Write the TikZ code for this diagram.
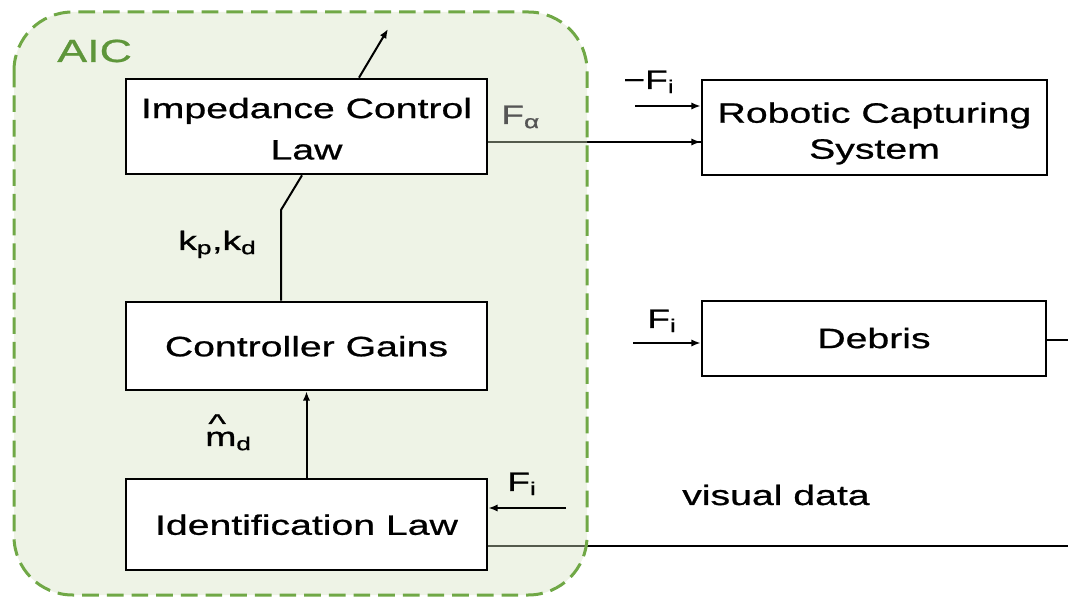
\documentclass[tikz,border=0pt]{standalone}
\usepackage{fontspec}
\setmainfont[FakeStretch=1.4,FakeBold=0.8]{Liberation Sans}
\usetikzlibrary{arrows.meta}
\definecolor{aicfill}{RGB}{212,225,192}
\definecolor{aicline}{RGB}{112,168,70}
\definecolor{aictext}{RGB}{94,150,58}
\definecolor{fagrey}{RGB}{85,85,85}
\newcommand{\mhatsym}{\rlap{\hspace{0.12em}\raisebox{0.5em}{\textasciicircum}}m}
\newcommand{\lowtext}[2]{\raisebox{-#1}[\height][\depth]{\begin{tabular}{@{}c@{}}#2\end{tabular}}}
\pgfdeclarelayer{under}
\pgfdeclarelayer{back}
\pgfsetlayers{under,back,main}
\begin{document}
\begin{tikzpicture}[x=0.75pt,y=-0.75pt,
  blk/.style={draw=black, line width=2pt, fill=white, minimum width=270.75pt,
    font=\fontsize{21}{31}\selectfont, align=center, inner sep=0pt},
  lbl/.style={font=\fontsize{20}{24}\selectfont, anchor=base west, inner sep=0pt},
  conn/.style={line width=1.5pt, draw=black},
  arr/.style={conn, -{Latex[length=7pt,width=5.5pt]}},
  aicbox/.style={draw=aicline, line width=2.25pt, dash pattern=on 12.5pt off 6pt,
    rounded corners=44pt},
]
\useasboundingbox (0,0) rectangle (1068,598);

% AIC container
\begin{pgfonlayer}{back}
  \fill[aicfill, fill opacity=0.4, rounded corners=44pt] (14,12) rectangle (587,595);
  \draw[aicbox] (14,12) rectangle (587,595);
\end{pgfonlayer}
\node[font=\fontsize{24}{28}\selectfont, text=aictext, anchor=base west, inner sep=0pt] (aic) at (57,62) {AIC};

% blocks
\node[blk, minimum height=71.25pt] (ICL) at (306.5,126.5) {\lowtext{3pt}{Impedance Control\\Law}};
\node[blk, minimum height=66pt] (CG) at (306.5,346) {\lowtext{1.5pt}{Controller Gains}};
\node[blk, minimum height=68.25pt] (IL) at (306.5,524.5) {\lowtext{1.5pt}{Identification Law}};
\node[blk, minimum height=71.25pt, minimum width=258.75pt, font=\fontsize{21}{27}\selectfont] (RCS) at (874.5,127.5) {\lowtext{4.5pt}{Robotic Capturing\\System}};
\node[blk, minimum height=56.25pt, minimum width=258pt] (DEB) at (874,338.5) {\lowtext{1pt}{Debris}};

% coordinates for free ends
\coordinate (upfoot) at (359,0);
\coordinate (upend) at (388,29);
\coordinate (kbend) at (281,210);
\coordinate (kfoot) at (302,0);
\coordinate (fa) at (0,142);
\coordinate (mfi) at (635,106);
\coordinate (fid) at (633,343);
\coordinate (dout) at (1068,340);
\coordinate (fil) at (566,508);
\coordinate (vd) at (1068,546);

% connectors
\begin{pgfonlayer}{under}
  \draw[conn, line width=1.3pt] (ICL.east |- fa) -- (RCS.west |- fa);
  \draw[conn] (IL.east |- vd) -- (vd);
\end{pgfonlayer}
\draw[arr, line width=1.3pt] ([xshift=-9pt]RCS.west |- fa) -- (RCS.west |- fa);
\draw[arr] (ICL.north -| upfoot) -- (upend);
\draw[conn] (CG.north -| kbend) -- (kbend) -- (ICL.south -| kfoot);
\draw[arr] (IL.north) -- (CG.south);
\draw[arr] (mfi) -- (RCS.west |- mfi);
\draw[arr] (fid) -- (DEB.west |- fid);
\draw[conn] (DEB.east |- dout) -- (dout);
\draw[arr] (fil) -- (IL.east |- fil);

% labels
\node[lbl] (lk) at (178,250) {k\textsubscript{p},k\textsubscript{d}};
\node[lbl, text=fagrey] (lfa) at (501,124) {F\textsubscript{α}};
\node[lbl] (lmfi) at (623,89) {−F\textsubscript{i}};
\node[lbl] (lfid) at (647,328) {F\textsubscript{i}};
\node[lbl] (lfil) at (507,491) {F\textsubscript{i}};
\node[lbl] (lm) at (205,446) {\mhatsym\textsubscript{d}};
\node[lbl, font=\fontsize{21}{24}\selectfont] (lvd) at (682,505) {visual data};
\end{tikzpicture}
\end{document}
